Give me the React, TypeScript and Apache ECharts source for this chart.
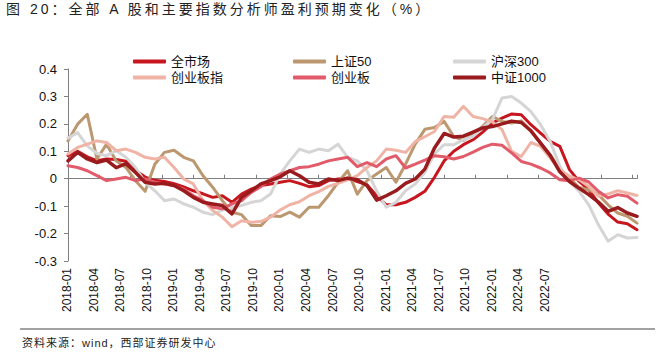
import React, { useEffect, useRef } from "react";
import * as echarts from "echarts";

// week index from 2018-01 (weekly data), sampled every 4 weeks
const weeks = [
  0, 4, 8, 12, 16, 20, 24, 28, 32, 36,
  40, 44, 48, 52, 56, 60, 64, 68, 72, 76,
  80, 84, 88, 92, 96, 100, 104, 108, 112, 116,
  120, 124, 128, 132, 136, 140, 144, 148, 152, 156,
  160, 164, 168, 172, 176, 180, 184, 188, 192, 196,
  200, 204, 208, 212, 216, 220, 224, 228, 232, 236,
];

const tickLabels = [
  "2018-01", "2018-04", "2018-07", "2018-10", "2019-01", "2019-04", "2019-07",
  "2019-10", "2020-01", "2020-04", "2020-07", "2020-10", "2021-01", "2021-04",
  "2021-07", "2021-10", "2022-01", "2022-04", "2022-07",
];

const allMarket = [
  0.084, 0.1, 0.08, 0.066, 0.072, 0.07, 0.064, 0.03, 0.006, -0.006,
  -0.01, -0.018, -0.03, -0.044, -0.055, -0.068, -0.062, -0.086, -0.056, -0.038,
  -0.025, -0.019, -0.013, -0.007, -0.017, -0.029, -0.025, -0.007, -0.001, 0.002,
  -0.01, -0.022, -0.062, -0.095, -0.095, -0.086, -0.068, -0.046, 0.005, 0.065,
  0.1, 0.124, 0.142, 0.17, 0.203, 0.221, 0.236, 0.233, 0.197, 0.166,
  0.136, 0.118, 0.033, -0.01, -0.04, -0.089, -0.129, -0.158, -0.164, -0.186,
];

const sz50 = [
  0.138, 0.199, 0.235, 0.072, 0.126, 0.065, 0.041, -0.007, -0.046, 0.053,
  0.096, 0.104, 0.078, 0.065, 0.011, -0.031, -0.08, -0.122, -0.131, -0.171,
  -0.171, -0.135, -0.138, -0.122, -0.14, -0.104, -0.104, -0.062, -0.013, 0.029,
  -0.056, -0.007, 0.017, 0.041, -0.013, 0.053, 0.126, 0.18, 0.187, 0.209,
  0.154, 0.139, 0.163, 0.191, 0.227, 0.209, 0.203, 0.211, 0.173, 0.13,
  0.087, 0.033, 0.002, -0.032, -0.04, -0.058, -0.095, -0.125, -0.137, -0.162,
];

const hs300 = [
  0.148, 0.168, 0.12, 0.092, 0.084, 0.102, 0.078, 0.041, -0.013, -0.044,
  -0.08, -0.074, -0.092, -0.104, -0.122, -0.131, -0.114, -0.104, -0.098, -0.086,
  -0.08, -0.056, 0.017, 0.065, 0.108, 0.096, 0.108, 0.102, 0.126, 0.078,
  0.065, 0.029, -0.044, -0.104, -0.086, -0.044, -0.019, 0.023, 0.09, 0.124,
  0.124, 0.142, 0.154, 0.185, 0.215, 0.294, 0.3, 0.276, 0.245, 0.197,
  0.136, 0.045, -0.01, -0.046, -0.095, -0.168, -0.228, -0.204, -0.216, -0.214,
];

const cybIndex = [
  0.09, 0.114, 0.126, 0.138, 0.132, 0.102, 0.108, 0.096, 0.078, 0.072,
  0.078, 0.041, -0.001, -0.019, -0.08, -0.116, -0.14, -0.175, -0.153, -0.159,
  -0.156, -0.14, -0.114, -0.095, -0.084, -0.062, -0.047, -0.028, -0.017, -0.004,
  0.011, 0.041, 0.065, 0.108, 0.104, 0.096, 0.135, 0.153, 0.172, 0.227,
  0.224, 0.264, 0.227, 0.219, 0.207, 0.179, 0.1, 0.081, 0.132, 0.118,
  0.075, 0.033, 0.009, -0.004, -0.028, -0.064, -0.056, -0.044, -0.052, -0.061,
];

const cyb = [
  0.047, 0.041, 0.029, 0.011, -0.007, -0.001, 0.005, -0.007, -0.001, -0.013,
  -0.019, -0.025, -0.038, -0.062, -0.08, -0.104, -0.11, -0.092, -0.08, -0.05,
  -0.029, -0.001, 0.017, 0.029, 0.041, 0.044, 0.053, 0.065, 0.072, 0.078,
  0.044, 0.059, 0.044, 0.072, 0.084, 0.039, 0.053, 0.068, 0.084, 0.08,
  0.072, 0.081, 0.097, 0.114, 0.126, 0.122, 0.094, 0.063, 0.053, 0.039,
  0.021, -0.004, -0.007, 0.002, -0.012, -0.046, -0.07, -0.058, -0.064, -0.089,
];

const zz1000 = [
  0.065, 0.096, 0.072, 0.059, 0.068, 0.04, 0.055, 0.023, -0.013, -0.019,
  -0.017, -0.025, -0.044, -0.068, -0.086, -0.092, -0.098, -0.128, -0.068, -0.044,
  -0.019, -0.007, 0.007, 0.029, 0.011, -0.013, -0.019, -0.001, -0.007, 0.002,
  -0.004, -0.025, -0.078, -0.062, -0.044, -0.017, -0.001, 0.035, 0.112, 0.165,
  0.152, 0.155, 0.17, 0.185, 0.19, 0.2, 0.21, 0.205, 0.175, 0.13,
  0.085, 0.025, -0.01, -0.035, -0.058, -0.085, -0.119, -0.105, -0.125, -0.137,
];

const seriesDefs = [
  { name: "全市场", values: allMarket, color: "#C8161F", width: 3 },
  { name: "上证50", values: sz50, color: "#BC9870", width: 3 },
  { name: "沪深300", values: hs300, color: "#D5D5D5", width: 3 },
  { name: "创业板指", values: cybIndex, color: "#F0B4A7", width: 3 },
  { name: "创业板", values: cyb, color: "#E25B6B", width: 3 },
  { name: "中证1000", values: zz1000, color: "#991B1E", width: 3.5 },
];

const TITLE = "图 20：全部 A 股和主要指数分析师盈利预期变化（%）";
const SOURCE = "资料来源：wind，西部证券研发中心";
const FONT = "'Liberation Sans', 'Noto Sans CJK SC', sans-serif";

export default function App() {
  const ref = useRef<HTMLDivElement>(null);

  useEffect(() => {
    if (!ref.current) return;
    const chart = echarts.init(ref.current, undefined, { renderer: "svg" });

    const legendPos = [
      { left: 133, top: 55 },
      { left: 293, top: 55 },
      { left: 453, top: 55 },
      { left: 133, top: 71 },
      { left: 293, top: 71 },
      { left: 453, top: 71 },
    ];

    chart.setOption({
      animation: false,
      backgroundColor: "#ffffff",
      textStyle: { fontFamily: FONT },
      title: {
        text: TITLE,
        left: 6,
        top: 2,
        padding: 0,
        textStyle: { fontSize: 14, fontWeight: "normal", color: "#222", fontFamily: FONT },
      },
      legend: seriesDefs.map((s, i) => ({
        data: [s.name],
        left: legendPos[i].left,
        top: legendPos[i].top,
        padding: 0,
        itemGap: 0,
        itemWidth: 33,
        itemHeight: 4,
        icon: "roundRect",
        textStyle: { fontSize: 13, color: "#111", fontFamily: FONT },
      })),
      grid: [
        { left: 68, right: 33, top: 69, bottom: 96, containLabel: false },
        { left: 67, right: 125, top: 120, bottom: 93, containLabel: false },
      ],
      xAxis: [
        {
          type: "value",
          gridIndex: 0,
          min: 0,
          max: 236,
          interval: 13,
          axisLabel: { show: false },
          axisLine: { show: true, onZero: true, lineStyle: { color: "#7f7f7f", width: 1 } },
          axisTick: { show: true, inside: true, length: 4, lineStyle: { color: "#7f7f7f" } },
          splitLine: { show: false },
        },
        {
          type: "category",
          gridIndex: 1,
          data: tickLabels,
          boundaryGap: false,
          axisLine: { show: false },
          axisTick: { show: false },
          splitLine: { show: false },
          axisLabel: {
            interval: 0,
            rotate: 90,
            margin: 4,
            fontSize: 12,
            color: "#111",
            fontFamily: FONT,
          },
        },
      ],
      yAxis: [
        {
          type: "value",
          gridIndex: 0,
          min: -0.3,
          max: 0.4,
          interval: 0.1,
          axisLine: { show: true, lineStyle: { color: "#7f7f7f", width: 1 } },
          axisTick: { show: true, inside: false, length: 4, lineStyle: { color: "#7f7f7f" } },
          splitLine: { show: false },
          axisLabel: {
            margin: 11,
            fontSize: 13,
            color: "#111",
            fontFamily: FONT,
            formatter: (v: number) => (Math.abs(v) < 1e-9 ? "0" : v.toFixed(1)),
          },
        },
        { type: "value", gridIndex: 1, show: false },
      ],
      graphic: [
        {
          type: "line",
          shape: { x1: 20, y1: 329, x2: 655, y2: 329 },
          style: { stroke: "#444", lineWidth: 1 },
        },
        {
          type: "text",
          left: 22,
          top: 337,
          style: {
            text: SOURCE,
            fontSize: 11,
            fill: "#222",
            fontFamily: FONT,
          },
        },
      ],
      series: seriesDefs.map((s) => ({
        name: s.name,
        type: "line",
        xAxisIndex: 0,
        yAxisIndex: 0,
        showSymbol: false,
        symbol: "none",
        data: weeks.map((w, i) => [w, s.values[i]]),
        itemStyle: { color: s.color },
        lineStyle: { color: s.color, width: s.width, join: "round", cap: "round" },
      })),
    });

    // widen the character spacing of the title and source note, as in the original
    const texts = ref.current.querySelectorAll("text");
    texts.forEach((t) => {
      const c = t.textContent || "";
      if (c === TITLE) (t as SVGTextElement).style.letterSpacing = "3px";
      else if (c === SOURCE) (t as SVGTextElement).style.letterSpacing = "1px";
    });

    return () => chart.dispose();
  }, []);

  return (
    <div
      ref={ref}
      style={{ position: "fixed", left: 0, top: 0, width: 670, height: 357, background: "#fff" }}
    />
  );
}
